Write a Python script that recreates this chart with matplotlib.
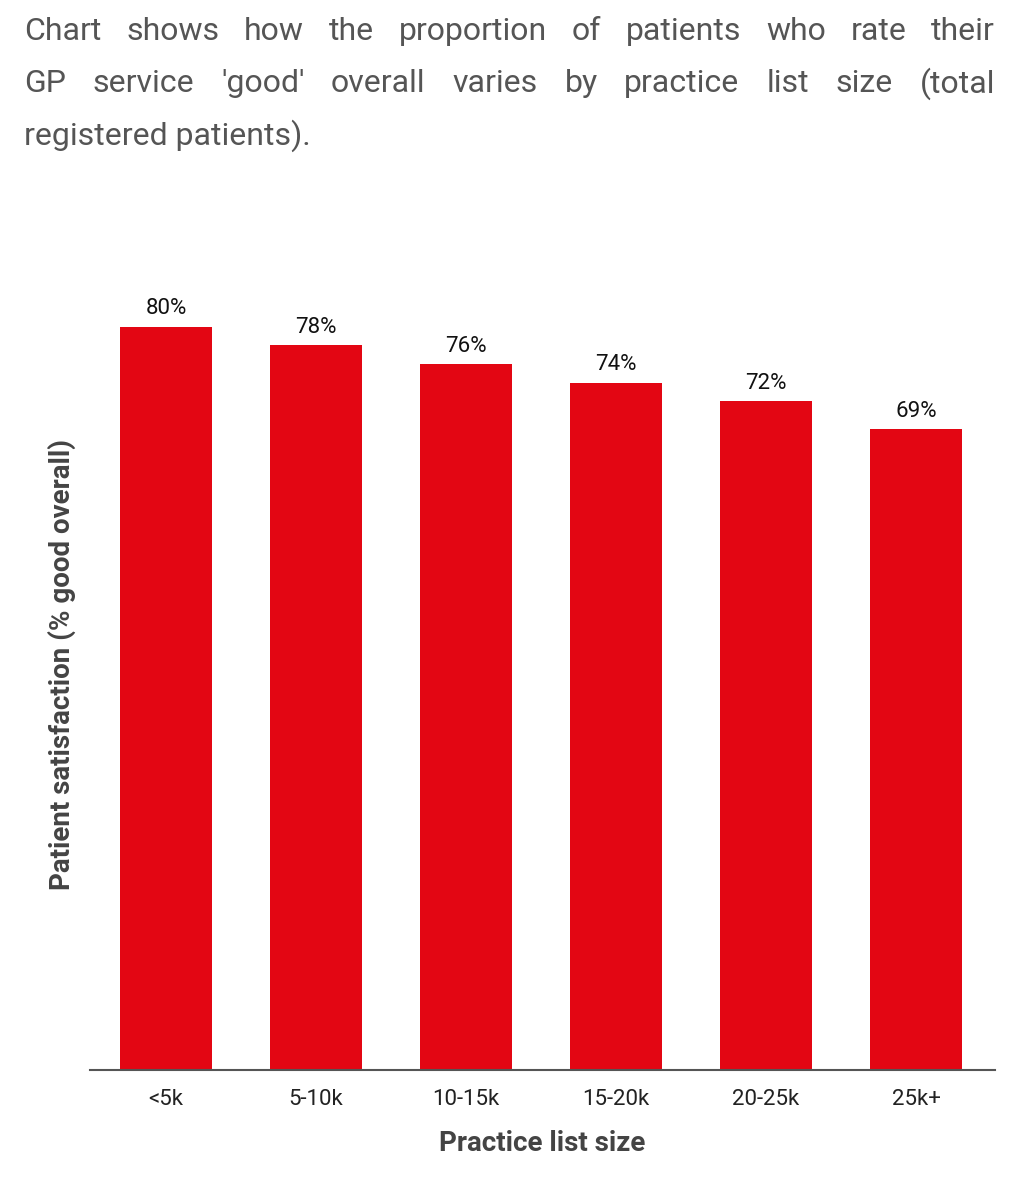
import matplotlib
matplotlib.use("Agg")
import matplotlib.pyplot as plt

categories = ["<5k", "5-10k", "10-15k", "15-20k", "20-25k", "25k+"]
values = [80, 78, 76, 74, 72, 69]
title_lines = ["Chart shows how the proportion of patients who rate their",
               "GP service 'good' overall varies by practice list size (total",
               "registered patients)."]

plt.rcParams["font.family"] = "Roboto"
W, H = 1012, 1200
fig = plt.figure(figsize=(W/100, H/100), dpi=100)
ax = fig.add_axes([90/W, 1-1070/H, 905/W, 810/H])
x = range(len(categories))
ax.bar(x, values, width=0.613, color="#E30613")
for i, v in zip(x, values):
    ax.text(i, v + 0.8, f"{v}%", ha="center", va="bottom", fontsize=16, color="#111")
ax.set_xlim(-0.507, 5.527)
ax.set_ylim(0, 87.2)
ax.set_yticks([])
ax.set_xticks(list(x))
ax.set_xticklabels(categories, fontsize=16, color="#222")
ax.tick_params(axis="x", length=0, pad=14)
for s in ["top", "right", "left"]:
    ax.spines[s].set_visible(False)
ax.spines["bottom"].set_color("#555")
ax.spines["bottom"].set_linewidth(1.5)
ax.set_xlabel("Practice list size", fontsize=20, fontweight="bold", color="#444", labelpad=14)
ax.set_ylabel("Patient satisfaction (% good overall)", fontsize=20, fontweight="bold", color="#444", labelpad=10)

# justified title
fig.canvas.draw()
r = fig.canvas.get_renderer()
left, right = 24, 995
ys = [32, 84, 136]
for li, (line, yp) in enumerate(zip(title_lines, ys)):
    words = line.split(" ")
    if li == len(title_lines) - 1:
        fig.text(left/W, 1-yp/H, line, fontsize=23, color="#555", va="center", ha="left")
        continue
    ts = [fig.text(0, 1-yp/H, w, fontsize=23, color="#555", va="center", ha="left") for w in words]
    widths = [t.get_window_extent(r).width for t in ts]
    gap = (right - left - sum(widths)) / (len(words) - 1)
    xp = left
    for t, w in zip(ts, widths):
        t.set_x(xp/W)
        xp += w + gap

fig.savefig("out.png", dpi=100)
